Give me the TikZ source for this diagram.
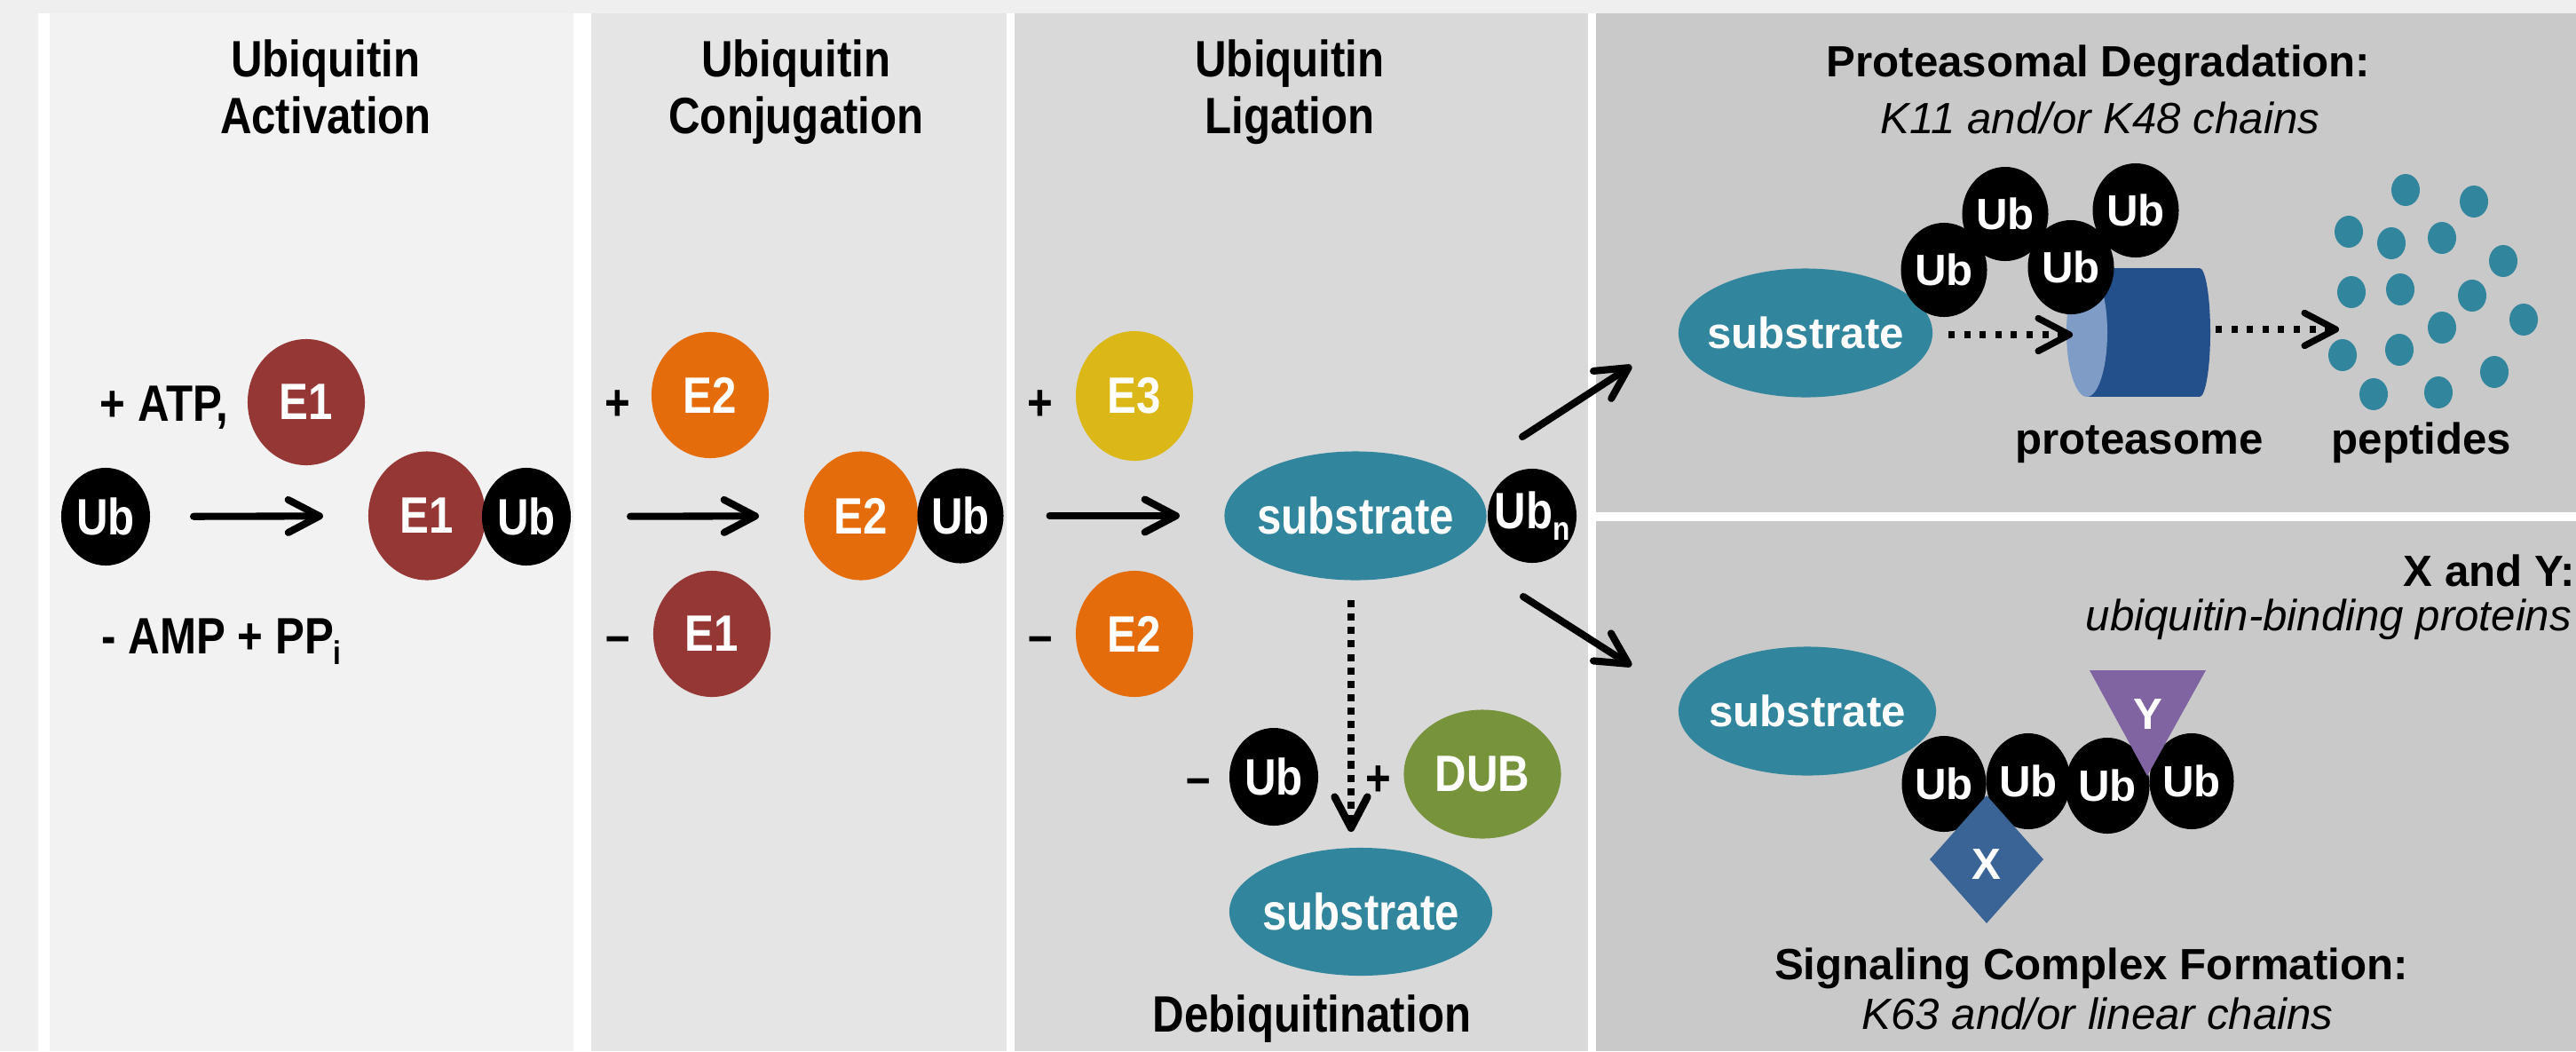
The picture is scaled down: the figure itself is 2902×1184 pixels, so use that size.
\documentclass[tikz,border=0pt]{standalone}
\usepackage{fontspec}
\setmainfont{Liberation Sans}
\usepackage{graphicx}
\usetikzlibrary{shapes.geometric,arrows.meta}
\definecolor{bgout}{HTML}{EFEFEF}
\definecolor{pone}{HTML}{F2F2F2}
\definecolor{ptwo}{HTML}{E5E5E5}
\definecolor{pthree}{HTML}{D9D9D9}
\definecolor{pfour}{HTML}{C9C9C9}
\definecolor{eone}{HTML}{953735}
\definecolor{etwo}{HTML}{E46C0A}
\definecolor{ethree}{HTML}{DBB818}
\definecolor{subc}{HTML}{31859C}
\definecolor{dubc}{HTML}{77933C}
\definecolor{protdark}{HTML}{234F8A}
\definecolor{protlight}{HTML}{7F9CC6}
\definecolor{xcol}{HTML}{3B6496}
\definecolor{ycol}{HTML}{8064A2}
\newcommand\fs{\fontsize{14pt}{17pt}\selectfont}
\newcommand\vs[1]{\scalebox{1}[1.17]{#1}}
\newcommand\zb[1]{\makebox[0pt]{#1}}
\newcommand\lowsub[1]{\raisebox{-3pt}{\fontsize{9pt}{9pt}\selectfont #1}}
\begin{document}
\begin{tikzpicture}[x=0.01cm,y=-0.01cm,
  blob/.style={ellipse,inner sep=0pt,outer sep=0pt,text=white,font=\fs\bfseries},
  ubb/.style={blob,fill=black,minimum width=1.0cm,minimum height=1.1cm},
  enz/.style={blob,minimum width=1.32cm,minimum height=1.42cm},
  subs/.style={blob,fill=subc,minimum width=2.95cm,minimum height=1.45cm},
  ubc/.style={blob,fill=black,minimum width=0.97cm,minimum height=1.06cm},
  lbl/.style={font=\fs\bfseries,inner sep=0pt},
  ital/.style={font=\fs\itshape,inner sep=0pt},
  arr/.style={line width=2.3pt,line cap=round,-{Straight Barb[length=10pt,width=10.5pt,round]}},
  dotarr/.style={line width=2.1pt,dash pattern=on 2pt off 3pt,-{Straight Barb[length=10pt,width=10.5pt,round]}}]
\useasboundingbox (0,0) rectangle (2902,1184);
\clip (0,0) rectangle (2902,1184);
% backgrounds
\fill[bgout] (0,0) rectangle (2902,1184);
\fill[white] (43,15) rectangle (2902,1184);
\fill[pone] (56,15) rectangle (646,1184);
\fill[ptwo] (666,15) rectangle (1134,1184);
\fill[pthree] (1143,15) rectangle (1789,1184);
\fill[pfour] (1798,15) rectangle (2902,577);
\fill[pfour] (1798,587) rectangle (2902,1184);
% ---- panel 1
\node[lbl,anchor=base] (t1a) at (367,86) {\vs{Ubiquitin}};
\node[lbl,anchor=base] (t1b) at (367,150) {\vs{Activation}};
\node[lbl,anchor=base west] (atp) at (112,474) {\vs{+ ATP,}};
\node[enz,fill=eone] (e1t) at (345,453) {\zb{\vs{E1}}};
\node[ubb] (ub1) at (119,582) {\zb{\vs{Ub}}};
\node[enz,fill=eone,minimum height=1.45cm] (e1b) at (481,581) {\zb{\vs{E1}}};
\node[ubb] (ub2) at (593,582) {\zb{\vs{Ub}}};
\node[lbl,anchor=base west] (amp) at (114,736) {\vs{- AMP + PP\lowsub{i}}};
\draw[arr,shorten <=0.49cm,shorten >=0.51cm] (ub1) -- (e1b);
% ---- panel 2
\node[lbl,anchor=base] (t2a) at (897,86) {\vs{Ubiquitin}};
\node[lbl,anchor=base] (t2b) at (897,150) {\vs{Conjugation}};
\node[lbl,anchor=base] (pl2) at (696,473) {\vs{+}};
\node[enz,fill=etwo] (e2t) at (800,445) {\zb{\vs{E2}}};
\node[lbl,anchor=base] (mi2) at (696,735) {\vs{–}};
\node[enz,fill=eone] (e1c) at (802,714) {\zb{\vs{E1}}};
\node[enz,fill=etwo,minimum width=1.28cm,minimum height=1.45cm] (e2b) at (970,581) {\zb{\vs{E2}}};
\node[ubb,minimum width=0.97cm,minimum height=1.07cm] (ub3) at (1082,581) {\zb{\vs{Ub}}};
\draw[arr,shorten <=0.67cm,shorten >=0.51cm] (ub2) -- (e2b);
% ---- panel 3
\node[lbl,anchor=base] (t3a) at (1453,86) {\vs{Ubiquitin}};
\node[lbl,anchor=base] (t3b) at (1453,150) {\vs{Ligation}};
\node[lbl,anchor=base] (pl3) at (1172,473) {\vs{+}};
\node[enz,fill=ethree,minimum height=1.46cm] (e3) at (1278,446) {\zb{\vs{E3}}};
\node[lbl,anchor=base] (mi3) at (1172,735) {\vs{–}};
\node[enz,fill=etwo] (e2c) at (1278,714) {\zb{\vs{E2}}};
\node[subs] (sub3) at (1527,581) {\zb{\vs{substrate}}};
\node[ubb,minimum height=1.06cm] (ubn) at (1726,581) {\zb{\vs{Ub\lowsub{n}}}};
\draw[arr,shorten <=0.52cm,shorten >=0.505cm] (ub3) -- (sub3);
\coordinate (up0) at (1715,492);
\coordinate (up1) at (1838,412);
\coordinate (dn0) at (1716,672);
\coordinate (dn1) at (1838,750);
\draw[arr] (up0) -- (up1);
\draw[arr] (dn0) -- (dn1);
\node[lbl,anchor=base] (mi4) at (1350,895) {\vs{–}};
\node[ubb] (ub4) at (1435,875) {\zb{\vs{Ub}}};
\node[lbl,anchor=base] (pl4) at (1553,896) {\vs{+}};
\node[blob,fill=dubc,minimum width=1.77cm,minimum height=1.45cm] (dub) at (1670,872) {\zb{\vs{DUB}}};
\node[subs,minimum width=2.96cm,minimum height=1.44cm] (sub4) at (1533,1027) {\zb{\vs{substrate}}};
\coordinate (dv0) at (1522,676);
\coordinate (dv1) at (1522,937);
\draw[dotarr,line width=2.4pt,dash pattern=on 2.3pt off 2pt] (dv0) -- (dv1);
\node[lbl,anchor=base] (deub) at (1478,1162) {\vs{Debiquitination}};
% ---- panel 4
\node[lbl,anchor=base] (t4a) at (2364,86) {Proteasomal Degradation:};
\node[ital,anchor=base] (t4b) at (2366,150) {K11 and/or K48 chains};
\node[subs,minimum width=2.86cm] (sub5) at (2034,375) {\zb{substrate}};
\fill[protdark] (2351,302) rectangle (2478,447);
\fill[protdark] (2478,374.5) ellipse [x radius=12, y radius=72.5];
\fill[protlight] (2351,374.5) ellipse [x radius=23, y radius=72.5];
\node[ubc] (c1) at (2190,304) {};
\node[ubc] (c2) at (2259,241) {};
\node[ubc] (c3) at (2333,301) {};
\node[ubc] (c4) at (2406,237) {};
\foreach \n in {c1,c2,c3,c4} \node[lbl,text=white] at (\n) {Ub};
\coordinate (da0) at (2195,377);
\coordinate (da1) at (2335,377);
\coordinate (db0) at (2496,371);
\coordinate (db1) at (2635,371);
\draw[dotarr] (da0) -- (da1);
\draw[dotarr] (db0) -- (db1);
\foreach \p in {(2710,214),(2787,227),(2646,261),(2694,274),(2751,268),(2820,294),(2649,329),(2704,326),(2785,333),(2843,360),(2751,369),(2639,400),(2703,394),(2810,419),(2674,444),(2747,442)}
  \fill[subc] \p ellipse [x radius=16, y radius=18];
\node[lbl,anchor=base] (prot) at (2410,511) {proteasome};
\node[lbl,anchor=base] (pept) at (2728,511) {peptides};
% ---- panel 5
\node[lbl,anchor=base west] (xy) at (2707,660) {X and Y:};
\node[ital,anchor=base west] (ubp) at (2349,710) {ubiquitin-binding proteins};
\node[subs,minimum width=2.90cm] (sub6) at (2036,801) {\zb{substrate}};
\node[ubc,minimum width=0.95cm,minimum height=1.08cm] (d1) at (2190,883) {};
\node[ubc,minimum width=0.95cm,minimum height=1.08cm] (d2) at (2285,880) {};
\node[ubc,minimum width=0.95cm,minimum height=1.08cm] (d3) at (2374,885) {};
\node[ubc,minimum width=0.95cm,minimum height=1.08cm] (d4) at (2469,880) {};
\foreach \n in {d1,d2,d3,d4} \node[lbl,text=white] at (\n) {Ub};
\fill[xcol] (2238,896) -- (2302,968) -- (2238,1040) -- (2174,968) -- cycle;
\fill[ycol] (2354,755) -- (2485,755) -- (2419,874) -- cycle;
\node[lbl,text=white] (xl) at (2238,974) {X};
\node[lbl,text=white] (yl) at (2420,805) {Y};
\node[lbl,anchor=base] (sig) at (2356,1103) {Signaling Complex Formation:};
\node[ital,anchor=base] (k63) at (2363,1159) {K63 and/or linear chains};
\end{tikzpicture}
\end{document}
